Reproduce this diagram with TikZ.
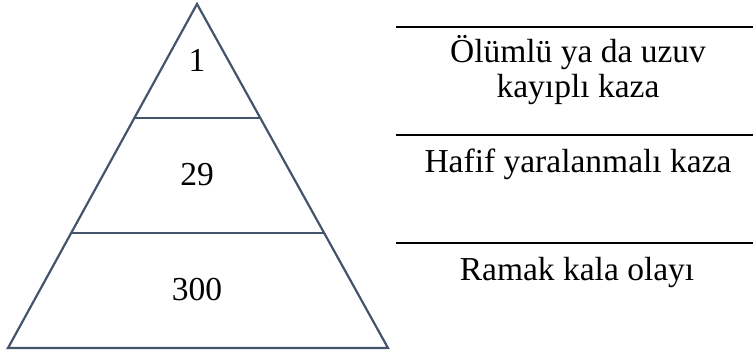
\documentclass[tikz,border=0pt]{standalone}
\usepackage{fontspec}
\setmainfont{Liberation Serif}
\usetikzlibrary{calc}
\definecolor{pyr}{HTML}{44546A}
\tikzset{
  pyrline/.style={draw=pyr, line width=2.2pt, line join=miter},
  rule/.style={draw=black, line width=2.8pt},
  lbl/.style={anchor=base, inner sep=0pt, font=\fontsize{33.5}{36}\selectfont, align=center},
}
\begin{document}
\begin{tikzpicture}[x=1pt,y=-1pt]
\useasboundingbox (0,0) rectangle (753,353);
\coordinate (apex) at (197,4);
\coordinate (bl) at (8,348);
\coordinate (br) at (388,348);
\draw[pyrline] (apex) -- (br) -- (bl) -- cycle;
\coordinate (l1a) at ($(apex)!0.3314!(bl)$);
\coordinate (l1b) at ($(apex)!0.3314!(br)$);
\coordinate (l2a) at ($(apex)!0.6657!(bl)$);
\coordinate (l2b) at ($(apex)!0.6657!(br)$);
\draw[pyrline] (l1a) -- (l1b);
\draw[pyrline] (l2a) -- (l2b);
\node[lbl] (n1) at (197,72) {1};
\node[lbl] (n2) at (197,185) {29};
\node[lbl] (n3) at (197,300) {300};
\coordinate (r1a) at (396,27);
\coordinate (r1b) at (753,27);
\coordinate (r2a) at (396,135);
\coordinate (r2b) at (753,135);
\coordinate (r3a) at (396,243);
\coordinate (r3b) at (753,243);
\draw[rule] (r1a) -- (r1b);
\draw[rule] (r2a) -- (r2b);
\draw[rule] (r3a) -- (r3b);
\node[lbl] (t1) at (578,63) {Ölümlü ya da uzuv};
\node[lbl] (t1b) at (578,98) {kayıplı kaza};
\node[lbl] (t2) at (578,172) {Hafif yaralanmalı kaza};
\node[lbl] (t3) at (577,280) {Ramak kala olayı};
\end{tikzpicture}
\end{document}
